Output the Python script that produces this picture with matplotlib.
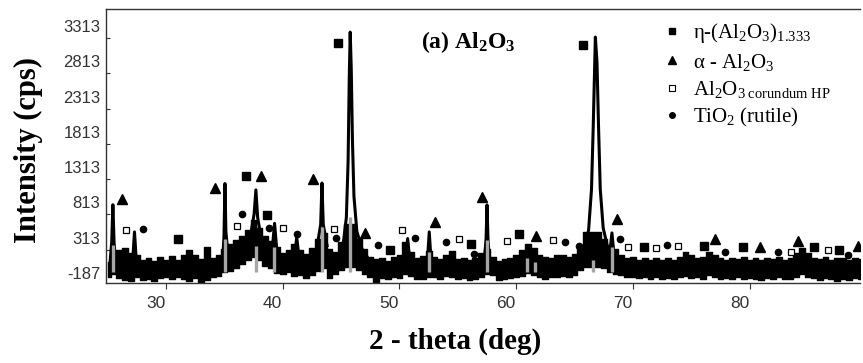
import numpy as np
import matplotlib
matplotlib.use("Agg")
import matplotlib.pyplot as plt
from matplotlib.lines import Line2D
from matplotlib.transforms import ScaledTranslation

plt.rcParams['mathtext.fontset'] = 'custom'
plt.rcParams['mathtext.rm'] = 'Liberation Serif'
plt.rcParams['mathtext.it'] = 'Liberation Serif:italic'
plt.rcParams['mathtext.bf'] = 'Liberation Serif:bold'

# ---------------- data ----------------
# noisy background band: upper / lower envelope every 0.5 deg from 25.0 to 89.5
band_x = np.arange(25.0, 89.51, 0.5)
band_hi = [-30, 120, 140, 170, 90, 60, -10, 30, -20, 40,
           -10, 50, 0, 60, 140, 60, 10, 180, 30, 60,
           150, 230, 280, 330, 420, 560, 450, 330, 260, 180,
           90, 140, 230, 140, 80, 160, 300, 380, 150, 110,
           250, 500, 500, 300, 150, 40, 10, 30, -20, 40,
           70, 250, 110, 20, 50, 120, 40, 10, 70, 120,
           10, 30, -10, 20, 90, 150, 40, -20, 10, 20,
           70, 140, 230, 160, 70, 40, 20, 60, 70, 40,
           80, 200, 400, 400, 400, 300, 180, 150, 60, 30,
           40, -10, 20, 0, 30, -10, 20, 0, 40, 110,
           60, 20, 40, 110, 70, 20, 0, 30, 10, 40,
           0, 20, -10, 30, 10, 40, 0, 30, 90, 170,
           100, 30, 10, 40, 0, 30, 20, -10, 30, 10]
band_lo = [-240, -200, -260, -290, -300, -250, -290, -270, -300, -260,
           -250, -270, -240, -280, -300, -260, -320, -290, -250, -230,
           -180, -160, -120, -60, 0, 40, 0, -90, -120, -190,
           -200, -180, -230, -210, -260, -220, -160, -120, -260, -200,
           -150, -100, -100, -150, -200, -250, -310, -260, -280, -250,
           -260, -200, -230, -280, -270, -240, -250, -270, -230, -240,
           -280, -260, -290, -280, -250, -200, -220, -290, -270, -260,
           -250, -230, -190, -220, -250, -270, -250, -240, -230, -250,
           -220, -150, -100, -100, -100, -120, -180, -200, -220, -240,
           -250, -260, -240, -270, -250, -280, -260, -270, -250, -230,
           -260, -250, -270, -220, -250, -280, -260, -270, -250, -280,
           -260, -270, -290, -260, -280, -250, -270, -280, -240, -200,
           -240, -260, -290, -260, -280, -300, -270, -290, -260, -280]

# diffraction peaks (NaN separates peaks)
nan = np.nan
peak_x = [25.2, 25.35, 25.45, 25.55, 25.7, nan,
          27.15, 27.3, 27.45, nan,
          34.85, 34.97, 35.05, 35.13, 35.3, nan,
          37.3, 37.55, 37.7, 37.85, 38.1, nan,
          39.1, 39.3, 39.5, nan,
          41.05, 41.2, 41.35, nan,
          43.0, 43.25, 43.36, 43.47, 43.8, nan,
          44.8, 45.2, 45.45, 45.6, 45.7, 45.78, 45.87, 45.97, 46.1, 46.35, 46.8, 47.2, nan,
          50.55, 50.7, 50.85, nan,
          52.4, 52.55, 52.7, nan,
          57.3, 57.42, 57.5, 57.58, 57.7, nan,
          65.5, 65.9, 66.2, 66.45, 66.6, 66.78, 66.92, 67.05, 67.2, 67.45, 67.8, 68.0, nan,
          68.05, 68.2, 68.35]
peak_y = [-50, 250, 780, 250, -50, nan,
          0, 394, 0, nan,
          -50, 350, 1080, 400, 100, nan,
          400, 650, 990, 600, 350, nan,
          150, 515, 120, nan,
          100, 320, 100, nan,
          250, 500, 1088, 500, 200, nan,
          50, 250, 600, 1400, 2600, 3228, 2700, 1700, 900, 400, 150, 50, nan,
          50, 300, 50, nan,
          0, 394, 0, nan,
          50, 300, 777, 300, 0, nan,
          100, 200, 420, 1000, 1900, 3157, 2800, 1900, 1000, 450, 200, 150, nan,
          150, 380, 120]

# grey reference sticks
stick_x = [25.45, 35.05, 37.7, 39.25, 43.36, 45.8, 52.55, 57.5, 60.9, 61.6, 66.6, 68.2]
stick_top = [210, 300, 200, 180, 460, 600, 110, 280, 30, -30, 0, 180]
stick_bottom = -180

# phase markers
eta_x = [31.03, 36.85, 38.65, 44.73, 49.18, 56.11, 60.22, 65.70, 70.92, 76.06, 79.40, 85.48, 87.62]
eta_y = [295, 1188, 635, 3072, 139, 224, 366, 3044, 181, 196, 181, 181, 139]
alpha_x = [26.23, 34.20, 38.13, 42.59, 47.04, 53.03, 57.05, 61.68, 68.61, 77.00, 80.86, 84.11, 89.25]
alpha_y = [862, 1017, 1188, 1145, 380, 536, 890, 337, 578, 295, 181, 266, 195]
cor_x = [26.58, 36.08, 40.02, 44.38, 50.21, 55.09, 59.20, 63.13, 69.55, 71.95, 73.84, 83.51, 86.68]
cor_y = [422, 479, 451, 437, 422, 295, 266, 281, 181, 167, 195, 110, 139]
tio2_x = [28.03, 36.51, 38.82, 41.22, 44.55, 48.15, 51.32, 53.97, 56.37, 64.16, 65.36, 68.87, 72.89, 77.86, 82.40, 88.39]
tio2_y = [437, 649, 451, 366, 309, 210, 309, 252, 82, 252, 195, 295, 210, 110, 110, 68]

y_ticks = [-187, 313, 813, 1313, 1813, 2313, 2813, 3313]
x_ticks = [30, 40, 50, 60, 70, 80]
legend_labels = ['η-(Al$_2$O$_3$)$_{1.333}$',
                 'α - Al$_2$O$_3$',
                 r'Al$_2$O$_{3\ \mathrm{corundum\ HP}}$',
                 'TiO$_2$ (rutile)']

# ---------------- figure ----------------
fig = plt.figure(figsize=(8.63, 3.63), dpi=100)
ax = fig.add_axes([106/863, 80/363, 754/863, 274/363])

ax.fill_between(band_x, band_lo, band_hi, step='mid', color='black', lw=1.0, zorder=2)
ax.plot(peak_x, peak_y, color='black', lw=2.2, zorder=3)
ax.vlines(stick_x, stick_bottom, stick_top, color='#a6a6a6', lw=2.4, zorder=4)

ax.plot(eta_x, eta_y, 's', color='black', ms=5.5, zorder=5)
ax.plot(alpha_x, alpha_y, '^', color='black', ms=7, zorder=5)
ax.plot(cor_x, cor_y, 's', mfc='white', mec='black', mew=0.9, ms=5, zorder=5)
ax.plot(tio2_x, tio2_y, 'o', color='black', ms=4.5, zorder=5)

ax.set_xlim(24.86, 89.45)
ax.set_ylim(-330, 3555)

ax.spines['right'].set_visible(False)
for s in ['left', 'bottom', 'top']:
    ax.spines[s].set_color('#333333')
    ax.spines[s].set_linewidth(1.0)

ax.set_xticks(x_ticks)
ax.set_xticklabels([str(v) for v in x_ticks])
ax.set_yticks(y_ticks)
ax.set_yticklabels([str(v) for v in y_ticks])
ax.tick_params(axis='x', direction='out', length=4, width=0.8, color='#333333',
               labelsize=12.5, labelcolor='#333333', pad=5)
ax.tick_params(axis='y', direction='in', length=0, labelsize=12,
               labelcolor='#333333', pad=4)
ax.set_yticks([v - 170 for v in y_ticks[1:]], minor=True)
ax.tick_params(axis='y', which='minor', direction='in', length=3, width=0.8, color='#333333')
for lab in ax.get_xticklabels() + ax.get_yticklabels():
    lab.set_fontfamily('Liberation Sans')
offset = ScaledTranslation(-10/100, 0, fig.dpi_scale_trans)
for lab in ax.get_xticklabels():
    lab.set_transform(lab.get_transform() + offset)

fig.text(28/863, 1 - 150/363, 'Intensity (cps)', rotation=90, ha='center', va='center',
         fontfamily='Liberation Serif', fontweight='bold', fontsize=22)
fig.text(455/863, 1 - 341/363, '2 - theta (deg)', ha='center', va='center',
         fontfamily='Liberation Serif', fontweight='bold', fontsize=21)
ax.text(0.48, 0.88, r'(a) Al$_\mathbf{2}$O$_\mathbf{3}$', transform=ax.transAxes,
        ha='center', va='center', fontfamily='Liberation Serif', fontweight='bold', fontsize=17)

handles = [Line2D([], [], ls='none', marker='s', color='black', ms=5),
           Line2D([], [], ls='none', marker='^', color='black', ms=6),
           Line2D([], [], ls='none', marker='s', mfc='white', mec='black', mew=0.8, ms=4.5),
           Line2D([], [], ls='none', marker='o', color='black', ms=4)]
ax.legend(handles, legend_labels, loc='upper left', bbox_to_anchor=(0.737, 0.955),
          frameon=False, prop={'family': 'Liberation Serif', 'size': 15},
          handlelength=1.0, handletextpad=0.5, labelspacing=0.3, borderpad=0,
          borderaxespad=0)

fig.savefig('out.png', dpi=100)
